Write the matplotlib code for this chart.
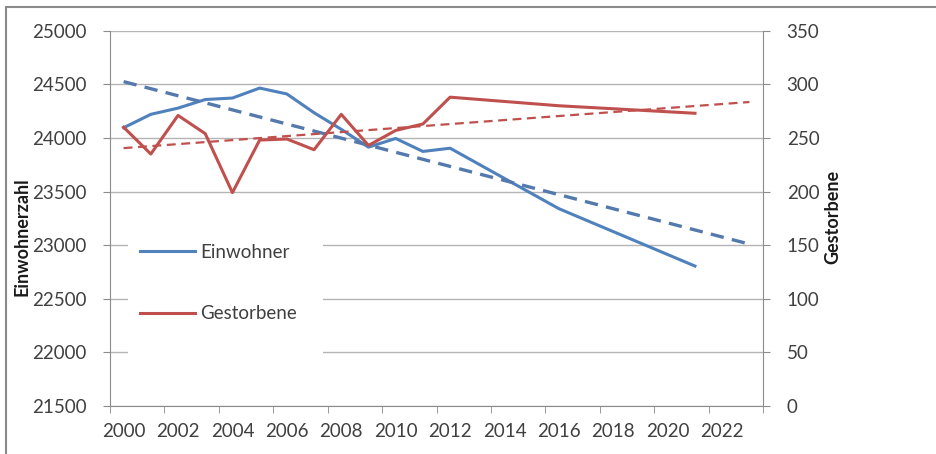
import matplotlib.pyplot as plt
from matplotlib.patches import Rectangle

plt.rcParams['font.family'] = ['Lato', 'DejaVu Sans']

years = [2000, 2001, 2002, 2003, 2004, 2005, 2006, 2007, 2008, 2009, 2010, 2011, 2012, 2016, 2021]
einwohner = [24095, 24220, 24278, 24358, 24372, 24465, 24410, 24235, 24080, 23914, 23995, 23874, 23904, 23340, 22805]
gestorbene = [260, 235, 271, 254, 199, 248, 249, 239, 272, 243, 257, 263, 288, 280, 273]

# Trendlinien
trend_years = [2000, 2023]
trend_einw = [24525, 23010]
trend_gest = [240.5, 283.5]

blue = '#4F81BD'
blue_trend = '#5479AD'
red = '#C0504D'
grid_c = '#B4B4B4'
axis_c = '#8C8C8C'
text_c = '#404040'

fig = plt.figure(figsize=(9.36, 4.54), dpi=100)
ax = fig.add_axes([110/936, 1 - 406/454, (763-110)/936, (406-30.7)/454])
ax2 = ax.twinx()

ax.set_xlim(1999.5, 2023.5)
ax.set_ylim(21500, 25000)
ax2.set_ylim(0, 350)
ax.set_yticks(range(21500, 25001, 500))
ax2.set_yticks(range(0, 351, 50))
ax.set_xticks(range(2000, 2023, 2))
ax.set_xticks([y + 0.5 for y in range(1999, 2024, 2)], minor=True)

ax.grid(axis='y', color=grid_c, linewidth=1)
ax.set_axisbelow(True)

for a in (ax, ax2):
    for s in a.spines.values():
        s.set_color(axis_c)
    a.spines['top'].set_visible(False)
ax.spines['right'].set_visible(False)
ax2.spines['left'].set_visible(False)
ax2.spines['bottom'].set_visible(False)

ax.tick_params(axis='x', which='major', length=0, pad=12, labelsize=13.5, labelcolor=text_c)
ax.tick_params(axis='x', which='minor', length=5, color=axis_c, direction='out')
ax.tick_params(axis='y', length=5, color=axis_c, pad=12, labelsize=13.5, labelcolor=text_c)
ax2.tick_params(axis='y', length=5, color=axis_c, pad=12, labelsize=13.5, labelcolor=text_c)

# weisser Legendenhintergrund verdeckt das Gitter
ax.add_patch(Rectangle((0.0276, 0.056), 0.2986, 0.466, transform=ax.transAxes,
                       facecolor='white', edgecolor='none', zorder=1))

l1, = ax.plot(years, einwohner, color=blue, linewidth=2.2, label='Einwohner', zorder=3)
ax.plot(trend_years, trend_einw, color=blue_trend, linewidth=2.4, linestyle=(0, (4, 2.5)), zorder=3)
ax2.plot(years, gestorbene, color=red, linewidth=2.2, zorder=3)
l2, = ax2.plot([], [], color=red, linewidth=2.2, label='Gestorbene')
ax2.plot(trend_years, trend_gest, color=red, linewidth=1.6, linestyle=(0, (4, 2.5)), zorder=3)

leg = ax.legend(handles=[l1, l2], loc='upper left', bbox_to_anchor=(0.046, 0.432),
                frameon=False, fontsize=13.5, labelspacing=2.36, handlelength=2.95,
                handletextpad=0.25, borderpad=0, borderaxespad=0, labelcolor=text_c)
leg.set_zorder(2)

fig.text(22/936, 1 - 237/454, 'Einwohnerzahl', rotation=90, ha='center', va='center',
         fontsize=13, fontweight='bold', color='#1a1a1a')
fig.text(833/936, 1 - 217/454, 'Gestorbene', rotation=90, ha='center', va='center',
         fontsize=13, fontweight='bold', color='#1a1a1a')

fig.patches.append(Rectangle((6/936, -0.1), 1.2, 1 - 7/454 + 0.1, transform=fig.transFigure,
                             fill=False, edgecolor='#8a8a8a', linewidth=1.5))

fig.savefig('out.png', dpi=100)
